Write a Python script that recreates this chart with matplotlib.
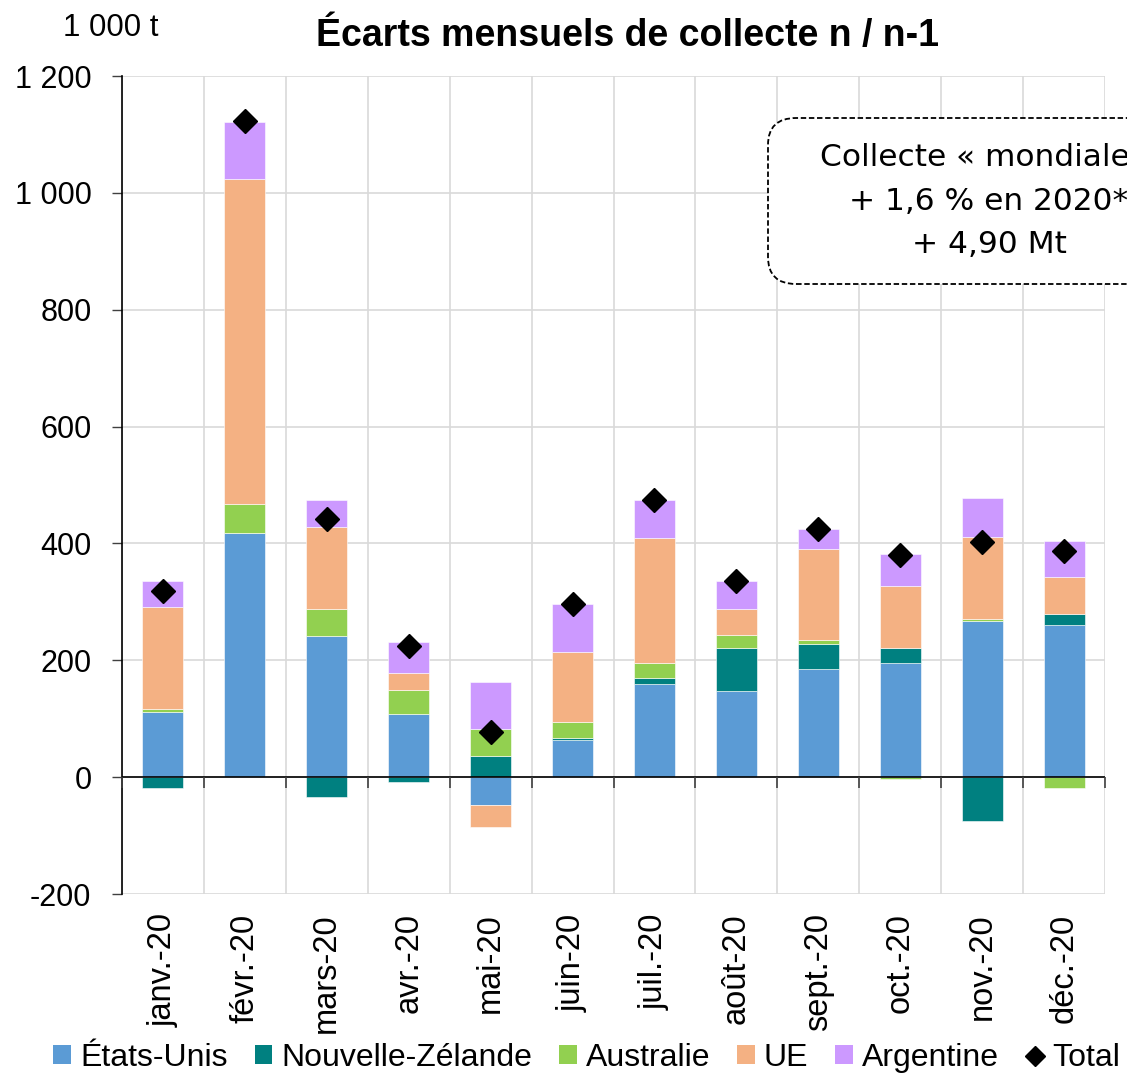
import numpy as np
import matplotlib
matplotlib.use("Agg")
import matplotlib.pyplot as plt
from matplotlib.patches import FancyBboxPatch
from matplotlib.lines import Line2D
from matplotlib.patches import Patch

plt.rcParams['font.family'] = ['Liberation Sans', 'DejaVu Sans']

mois = ["janv.-20", "févr.-20", "mars-20", "avr.-20", "mai-20", "juin-20",
        "juil.-20", "août-20", "sept.-20", "oct.-20", "nov.-20", "déc.-20"]

# écarts en 1 000 t
etats_unis = [112, 418, 242, 108, -47, 64, 159, 148, 185, 195, 268, 260]
nouvelle_zelande = [-18, 0, -34, -8, 36, 3, 11, 73, 43, 26, -75, 19]
australie = [4, 49, 45, 41, 46, 27, 25, 23, 7, -3, 2, -18]
ue = [176, 557, 141, 29, -38, 120, 214, 44, 155, 106, 141, 63]
argentine = [43, 98, 46, 54, 81, 82, 66, 47, 34, 55, 66, 63]
total = [319, 1123, 441, 224, 78, 297, 475, 335, 425, 380, 402, 387]

series = [
    ("États-Unis", etats_unis, "#5B9BD5"),
    ("Nouvelle-Zélande", nouvelle_zelande, "#008080"),
    ("Australie", australie, "#92D050"),
    ("UE", ue, "#F4B183"),
    ("Argentine", argentine, "#CC99FF"),
]

fig = plt.figure(figsize=(11.27, 10.77), dpi=100)
ax = fig.add_axes([122 / 1127, 1 - 894 / 1077, 983 / 1127, 818 / 1077])

x = np.arange(len(mois))
pos_base = np.zeros(len(mois))
neg_base = np.zeros(len(mois))
for nom, vals, col in series:
    v = np.array(vals, dtype=float)
    base = np.where(v >= 0, pos_base, neg_base)
    ax.bar(x, v, width=0.5, bottom=base, color=col, edgecolor="white",
           linewidth=0.4, zorder=3)
    pos_base = pos_base + np.where(v > 0, v, 0)
    neg_base = neg_base + np.where(v < 0, v, 0)

ax.plot(x, total, ls="none", marker="D", ms=12, color="black", zorder=5)

ax.set_xlim(-0.5, len(mois) - 0.5)
ax.set_ylim(-200, 1200)
ax.set_yticks(range(-200, 1201, 200))
ax.set_yticklabels(["-200", "0", "200", "400", "600", "800", "1 000", "1 200"],
                   fontsize=22)
ax.tick_params(axis="y", length=7, width=1, pad=15, color="#404040")

ax.set_xticks(x)
ax.set_xticklabels(mois, rotation=90, fontsize=23.5)
ax.tick_params(axis="x", which="major", length=0, pad=14)
ax.set_xticks(np.arange(-0.5, len(mois), 1), minor=True)
ax.tick_params(axis="x", which="minor", length=0)

ax.grid(axis="y", color="#D9D9D9", lw=1.2, zorder=0)
ax.grid(axis="x", which="minor", color="#D9D9D9", lw=1.2, zorder=0)
ax.grid(axis="x", which="major", visible=False)

for s in ["top", "right", "bottom"]:
    ax.spines[s].set_visible(False)
ax.spines["left"].set_color("black")
ax.spines["left"].set_linewidth(1.2)

ax.axhline(0, color="black", lw=1.2, zorder=4)
bords = np.arange(-0.5, len(mois), 1)
ax.plot(bords, np.zeros(len(bords)), ls="none", marker=3, ms=8, mew=1.2,
        color="#404040", zorder=4, clip_on=False)

fig.text(628 / 1127, 1 - 36 / 1077, "Écarts mensuels de collecte n / n-1",
         ha="center", va="center", fontsize=27, fontweight="bold")
fig.text(111 / 1127, 1 - 28 / 1077, "1 000 t", ha="center", va="center",
         fontsize=22.5)

# encadré
boite = FancyBboxPatch((768 / 1127, 1 - 284 / 1077), 440 / 1127, 166 / 1077,
                       boxstyle="round,pad=0,rounding_size=0.025",
                       transform=fig.transFigure, facecolor="white",
                       edgecolor="black", lw=1.3, ls=(0, (3, 1.5)), zorder=10)
fig.patches.append(boite)
for i, ligne in enumerate(["Collecte « mondiale »", "+ 1,6 % en 2020*", "+ 4,90 Mt"]):
    fig.text(989 / 1127, 1 - (158 + i * 43) / 1077, ligne, ha="center",
             va="center", fontsize=22.5, family=["DejaVu Sans"], zorder=11)

handles = [Patch(facecolor=c, edgecolor="none") for _, _, c in series]
handles.append(Line2D([], [], ls="none", marker="D", color="black", ms=10))
labels = [n for n, _, _ in series] + ["Total"]
fig.legend(handles, labels, loc="center", bbox_to_anchor=(587 / 1127, 1 - 1058 / 1077),
           ncol=6, frameon=False, fontsize=23, handlelength=0.55,
           handleheight=0.55, handletextpad=0.28, columnspacing=0.85,
           borderaxespad=0, borderpad=0)

fig.savefig("out.png", dpi=100)
